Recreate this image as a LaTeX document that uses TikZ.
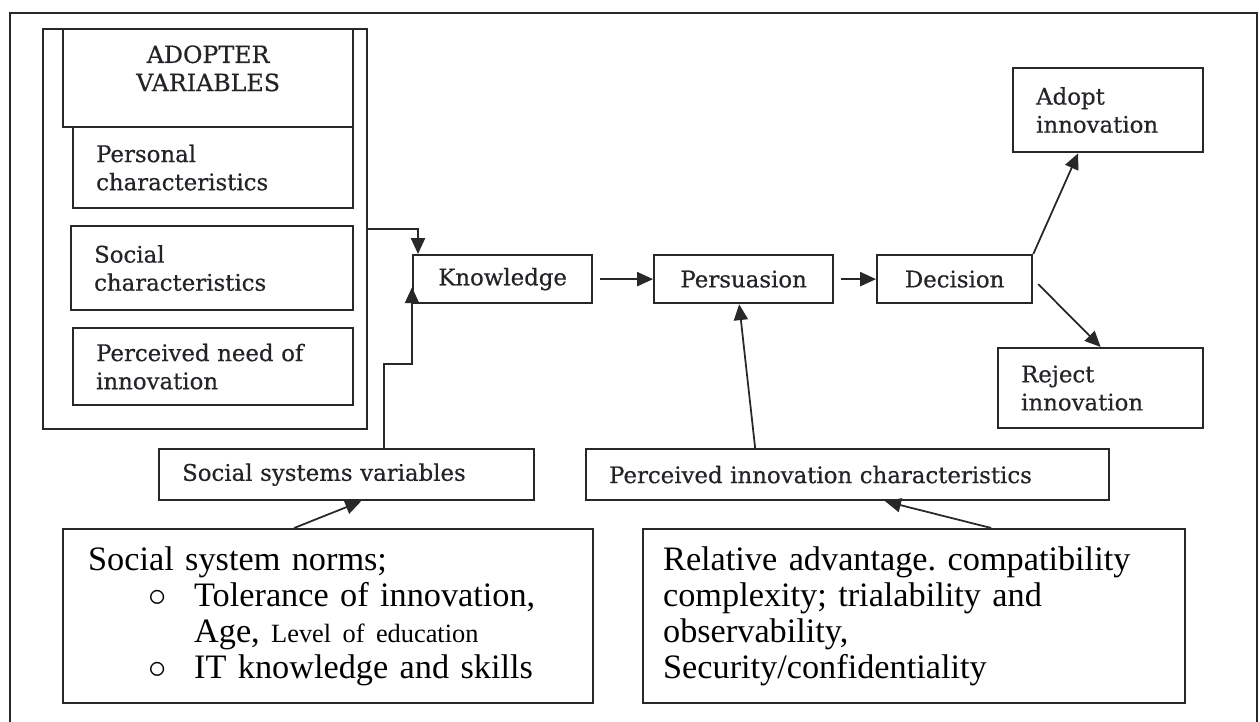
\documentclass[tikz,border=0pt]{standalone}
\usepackage{fontspec}
\setmainfont{Liberation Serif}
\newfontfamily\boxfont[FakeBold=0.5]{DejaVu Serif}
\usetikzlibrary{arrows.meta, positioning, calc}
\definecolor{mydark}{RGB}{40,40,40}
\definecolor{mytext}{RGB}{35,35,40}
\tikzset{
  box/.style={rectangle, draw=mydark, line width=1.3pt, inner sep=0pt, text=mytext, font=\boxfont\fontsize{13}{16}\selectfont},
  leftbox/.style={box, align=left, inner xsep=0.46cm},
  bigbox/.style={rectangle, draw=mydark, line width=1.3pt, inner ysep=0pt, align=left, font=\fontsize{19.5}{20.5}\selectfont},
  arrow/.style={-{Triangle[length=9pt,width=8pt]}, line width=1pt, color=mydark},
  gap/.style={shorten <=4pt},
  line/.style={line width=1.1pt, color=mydark}
}
\frenchspacing
\begin{document}
\begin{tikzpicture}
  \useasboundingbox (0,0) rectangle (25.2,14.44);
  % frame, open at the bottom
  \draw[line] (0.2,0) -- (0.2,14.18) -- (25.14,14.18) -- (25.14,0);

  % adopter variables
  \node[box, anchor=north west, minimum width=6.48cm, minimum height=8cm] (advar) at (0.84,13.88) {};
  \node[box, anchor=north west, minimum width=5.8cm, minimum height=1.96cm] (advarhdr) at (1.24,13.88) {};
  \node[align=center, anchor=north, inner sep=0pt, text=mytext, font=\boxfont\fontsize{13.5}{16}\selectfont] (advartxt) at ([yshift=-0.34cm]advarhdr.north) {ADOPTER\\VARIABLES};
  \node[leftbox, text width=4.68cm, minimum height=1.62cm, anchor=north west] (personal) at (1.44,11.92) {Personal\\characteristics};
  \node[leftbox, text width=4.72cm, minimum height=1.68cm, anchor=north west] (social) at (1.40,9.94) {Social\\characteristics};
  \node[leftbox, text width=4.68cm, minimum height=1.54cm, anchor=north west] (need) at (1.44,7.9) {Perceived need of\\innovation};

  % stages
  \node[box, minimum width=3.58cm, minimum height=0.96cm, anchor=north west] (know) at (8.24,9.36) {Knowledge};
  \node[box, minimum width=3.58cm, minimum height=0.96cm, anchor=north west] (pers) at (13.06,9.36) {Persuasion};
  \node[box, minimum width=3.1cm, minimum height=0.96cm, anchor=north west] (dec) at (17.52,9.36) {Decision};
  \node[leftbox, text width=2.88cm, minimum height=1.68cm, anchor=north west] (adopt) at (20.24,13.1) {Adopt\\innovation};
  \node[leftbox, text width=3.18cm, minimum height=1.6cm, anchor=north west] (rej) at (19.94,7.5) {Reject\\innovation};

  % variables
  \node[leftbox, text width=6.58cm, minimum height=1.02cm, anchor=north west] (ssv) at (3.16,5.48) {Social systems variables};
  \node[leftbox, text width=9.54cm, minimum height=1.02cm, anchor=north west] (pic) at (11.7,5.48) {Perceived innovation characteristics};
  \node[bigbox, inner xsep=0.5cm, text width=9.6cm, minimum height=3.48cm, anchor=north west] (norms) at (1.24,3.88) {Social system norms;\\
    \hspace*{1.2cm}\makebox[0.92cm][l]{$\circ$}Tolerance of innovation,\\
    \hspace*{2.12cm}Age, {\fontsize{15}{20}\selectfont Level of education}\\
    \hspace*{1.2cm}\makebox[0.92cm][l]{$\circ$}IT knowledge and skills};
  \node[bigbox, inner xsep=0.4cm, text width=10.04cm, minimum height=3.48cm, anchor=north west] (relative) at (12.84,3.88) {Relative advantage. compatibility\\
    complexity; trialability and\\
    observability,\\
    Security/confidentiality};

  % connectors
  \coordinate (kjoin) at (8.24,7.16);
  \draw[arrow] (advar.east) -| ([xshift=0.12cm]know.north west);
  \draw[arrow] ([xshift=0.75cm]ssv.north) |- (kjoin) -- ([yshift=0.34cm]know.south west);
  \draw[arrow, gap] (know) -- (pers);
  \draw[arrow, gap] (pers) -- (dec);
  \draw[arrow] (dec.north east) -- ([xshift=-0.6cm]adopt.south);
  \draw[arrow, gap] (dec.east) -- (rej.north);
  \draw[arrow] ([xshift=-1.85cm]pic.north) -- ([xshift=-0.09cm]pers.south);
  \draw[arrow] ([xshift=1.54cm]relative.north) -- ([xshift=0.75cm]pic.south);
  \draw[arrow] ([xshift=-0.68cm]norms.north) -- ([xshift=0.29cm]ssv.south);
\end{tikzpicture}
\end{document}
